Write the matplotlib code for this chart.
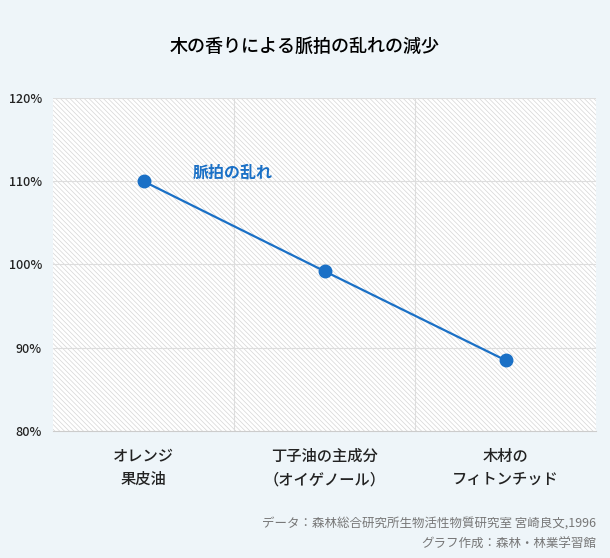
import numpy as np
import matplotlib.pyplot as plt

plt.rcParams['font.family'] = ['Noto Sans CJK JP', 'DejaVu Sans']
plt.rcParams['hatch.linewidth'] = 0.5

categories = ['オレンジ\n果皮油', '丁子油の主成分\n（オイゲノール）', '木材の\nフィトンチッド']
values = [110.0, 99.2, 88.5]
yticks = [80, 90, 100, 110, 120]
series_name = '脈拍の乱れ'

bg = '#eef5f9'
blue = '#1a70c6'

fig = plt.figure(figsize=(6.1, 5.58), dpi=100, facecolor=bg)
ax = fig.add_axes([53/610, 1 - 431/558, 543/610, 333/558])
ax.set_facecolor('white')
ax.add_patch(plt.Rectangle((0, 0), 1, 1, transform=ax.transAxes, facecolor='white',
                           edgecolor='#d6d6d6', lw=0, hatch='\\' * 7, zorder=0))

x = np.arange(len(categories))
ax.plot(x, values, color=blue, lw=1.6, marker='o', ms=9, zorder=3)
ax.text(0.27, 111, series_name, color=blue, fontsize=11.5, fontweight='bold', va='center')

ax.set_xlim(-0.5, 2.5)
ax.set_ylim(80, 120)
ax.set_yticks(yticks)
ax.set_yticklabels([f'{v}%' for v in yticks], fontsize=9, fontweight='medium')
ax.set_xticks(x)
ax.set_xticklabels(categories, fontsize=11, linespacing=1.5, fontweight='medium')
ax.set_xticks([0.5, 1.5], minor=True)
ax.grid(True, which='major', axis='y', color='#dddddd', lw=0.8, zorder=1)
ax.grid(True, which='minor', axis='x', color='#dddddd', lw=0.8, zorder=1)
ax.tick_params(which='both', length=0, pad=8, colors='#222222')
ax.tick_params(axis='x', pad=12)
for s in ax.spines.values():
    s.set_visible(False)
ax.spines['bottom'].set_visible(True)
ax.spines['bottom'].set_color('#cccccc')
ax.set_axisbelow(True)

fig.text(0.5, 1 - 47/558, '木の香りによる脈拍の乱れの減少', ha='center', va='center',
         fontsize=13, fontweight='medium')
fig.text(596/610, 1 - 523/558, 'データ：森林総合研究所生物活性物質研究室 宮崎良文,1996',
         ha='right', va='center', fontsize=9, color='#777777')
fig.text(596/610, 1 - 544/558, 'グラフ作成：森林・林業学習館',
         ha='right', va='center', fontsize=9, color='#777777')

fig.savefig('out.png', dpi=100, facecolor=bg)
